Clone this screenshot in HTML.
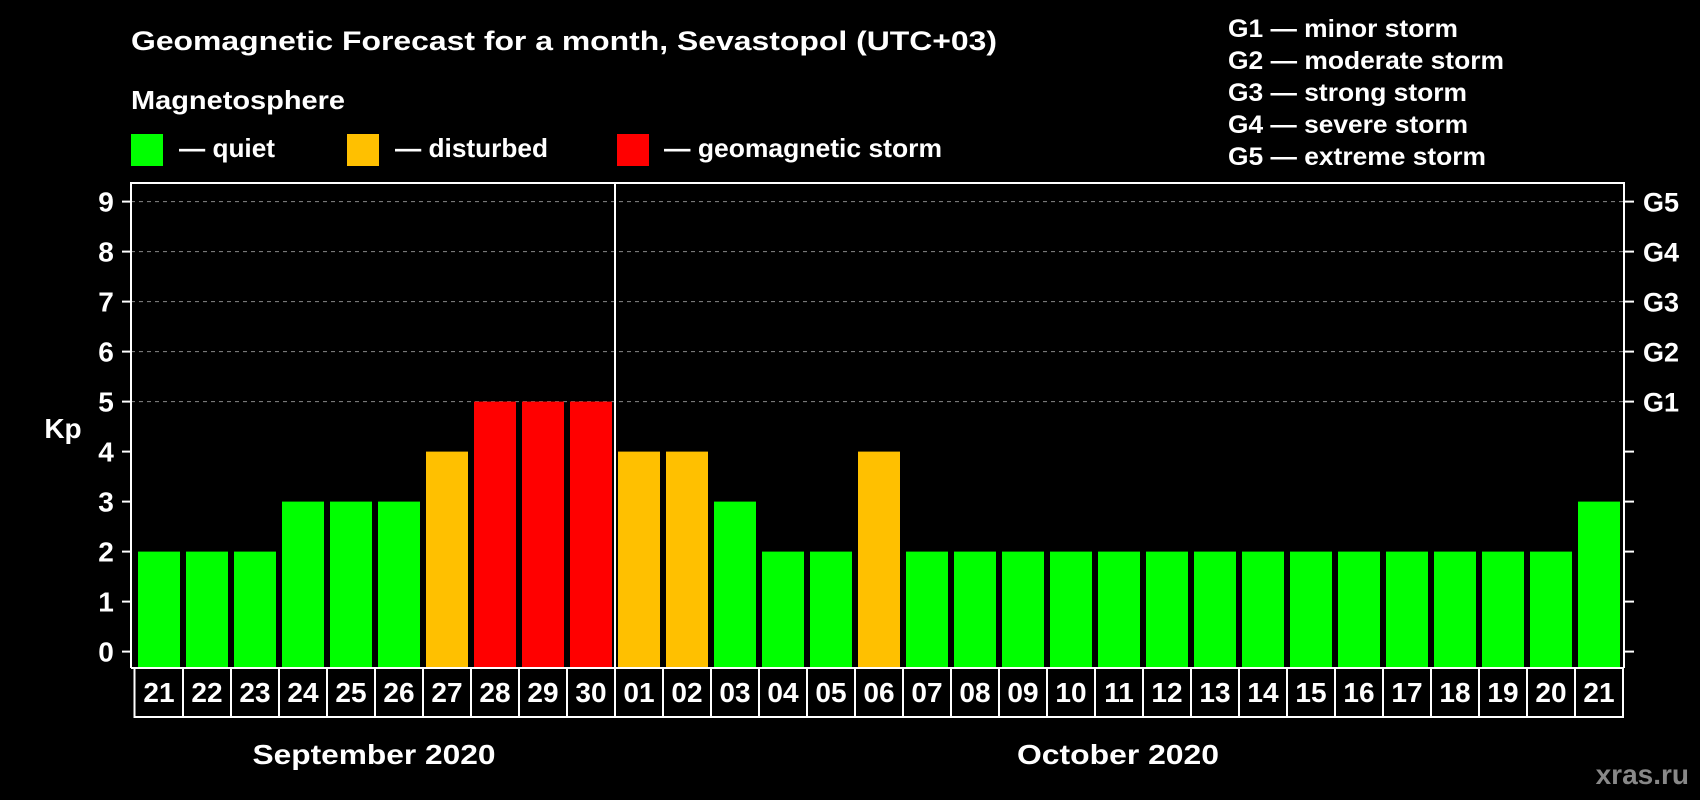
<!DOCTYPE html>
<html><head><meta charset="utf-8"><style>
html,body{margin:0;padding:0;background:#000;}
svg{display:block;font-family:"Liberation Sans",Arial,sans-serif;font-weight:bold;}
</style></head><body>
<svg id="chart" width="1700" height="800" viewBox="0 0 1700 800">
<rect x="0" y="0" width="1700" height="800" fill="#000"/>
<text x="131" y="50" fill="#fff" font-size="27" textLength="866" lengthAdjust="spacingAndGlyphs">Geomagnetic Forecast for a month, Sevastopol (UTC+03)</text>
<text x="131" y="109" fill="#fff" font-size="26" textLength="214" lengthAdjust="spacingAndGlyphs">Magnetosphere</text>
<rect x="131" y="134" width="32" height="32" fill="#00ff00"/>
<text x="179" y="157" fill="#fff" font-size="26" textLength="96" lengthAdjust="spacingAndGlyphs">— quiet</text>
<rect x="347" y="134" width="32" height="32" fill="#ffc000"/>
<text x="395" y="157" fill="#fff" font-size="26" textLength="153" lengthAdjust="spacingAndGlyphs">— disturbed</text>
<rect x="617" y="134" width="32" height="32" fill="#ff0000"/>
<text x="664" y="157" fill="#fff" font-size="26" textLength="278" lengthAdjust="spacingAndGlyphs">— geomagnetic storm</text>
<g fill="#fff" font-size="25">
<text x="1228" y="37" textLength="230" lengthAdjust="spacingAndGlyphs">G1 — minor storm</text>
<text x="1228" y="69" textLength="276" lengthAdjust="spacingAndGlyphs">G2 — moderate storm</text>
<text x="1228" y="101" textLength="239" lengthAdjust="spacingAndGlyphs">G3 — strong storm</text>
<text x="1228" y="133" textLength="240" lengthAdjust="spacingAndGlyphs">G4 — severe storm</text>
<text x="1228" y="165" textLength="258" lengthAdjust="spacingAndGlyphs">G5 — extreme storm</text>
</g>
<text x="63" y="438" fill="#fff" font-size="28" text-anchor="middle">Kp</text>
<text x="374" y="764" fill="#fff" font-size="28" text-anchor="middle" textLength="243" lengthAdjust="spacingAndGlyphs">September 2020</text>
<text x="1118" y="764" fill="#fff" font-size="28" text-anchor="middle" textLength="202" lengthAdjust="spacingAndGlyphs">October 2020</text>
<text x="1689" y="784" fill="#888" font-size="28" text-anchor="end">xras.ru</text>
<g id="grid"></g>
<g id="bars"></g>
<g id="axes"></g>
</svg>
<script>
const days = ["21","22","23","24","25","26","27","28","29","30","01","02","03","04","05","06","07","08","09","10","11","12","13","14","15","16","17","18","19","20","21"];
const kpValues = [2,2,2,3,3,3,4,5,5,5,4,4,3,2,2,4,2,2,2,2,2,2,2,2,2,2,2,2,2,2,3];
const yTicks = [0,1,2,3,4,5,6,7,8,9];
const gridLevels = [5,6,7,8,9];
const gLabels = ["G1","G2","G3","G4","G5"];
const monthBreakIndex = 10;

const NS = "http://www.w3.org/2000/svg";
const plotL = 131, plotR = 1624, plotT = 183, plotB = 668, boxB = 717;
const x0 = 138, pitch = 48, barW = 42;
function yScale(v){ return 651.6 - 50.0 * v; }
function xScale(i){ return x0 + i * pitch; }
function mk(tag, attrs, parent){ const e = document.createElementNS(NS, tag); for (const k in attrs) e.setAttribute(k, attrs[k]); parent.appendChild(e); return e; }
function colorFor(v){ return v >= 5 ? "#ff0000" : (v >= 4 ? "#ffc000" : "#00ff00"); }

const grid = document.getElementById("grid"), bars = document.getElementById("bars"), axes = document.getElementById("axes");

gridLevels.forEach((lv, k) => {
  const l = mk("line", {x1: plotL, x2: plotR, y1: yScale(lv), y2: yScale(lv), stroke: "#888", "stroke-width": 1, "stroke-dasharray": "4,4"}, grid);
  
  
  const t = mk("text", {x: 1643, y: yScale(lv) + 10, fill: "#fff", "font-size": 27}, axes);
  
  
  t.textContent = gLabels[k];
});

kpValues.forEach((v, i) => {
  const r = mk("rect", {x: xScale(i), y: yScale(v), width: barW, height: plotB - yScale(v), fill: colorFor(v)}, bars);
  
  
});

// frame
const fr = mk("path", {d: `M${plotL},${plotB} V${plotT} H${plotR} V${plotB}`, fill: "none", stroke: "#fff", "stroke-width": 2}, axes);


const ax = mk("line", {x1: plotL, x2: plotR, y1: plotB, y2: plotB, stroke: "#fff", "stroke-width": 2}, axes);



yTicks.forEach(v => {
  const y = yScale(v);
  const tl = mk("line", {x1: 122, x2: plotL, y1: y, y2: y, stroke: "#fff", "stroke-width": 2}, axes);
  
  
  const tr = mk("line", {x1: plotR, x2: 1634, y1: y, y2: y, stroke: "#fff", "stroke-width": 2}, axes);
  
  
  const t = mk("text", {x: 106, y: y + 10, fill: "#fff", "font-size": 28, "text-anchor": "middle"}, axes);
  
  
  t.textContent = v;
});

// date boxes
const boxL = 134.5;
const ob = mk("rect", {x: boxL, y: plotB, width: (xScale(days.length - 1) + pitch - 3) - boxL, height: boxB - plotB, fill: "none", stroke: "#fff", "stroke-width": 2}, axes);


days.forEach((d, i) => {
  if (i > 0) {
    const sx = xScale(i) - 3;
    const s = mk("line", {x1: sx, x2: sx, y1: plotB, y2: boxB, stroke: "#fff", "stroke-width": 2}, axes);
    
    
  }
  const t = mk("text", {x: xScale(i) + barW / 2, y: 702, fill: "#fff", "font-size": 28, "text-anchor": "middle"}, axes);
  
  
  t.textContent = d;
});

const mx = xScale(monthBreakIndex) - 3;
const md = mk("line", {x1: mx, x2: mx, y1: plotT, y2: boxB, stroke: "#fff", "stroke-width": 2}, axes);


</script>
</body></html>
